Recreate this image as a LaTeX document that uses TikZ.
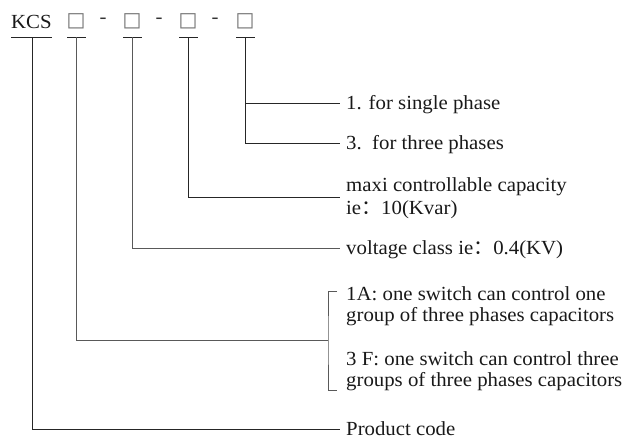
\documentclass[tikz,border=0pt]{standalone}
\usepackage{fontspec}
\setmainfont{Liberation Serif}[FakeStretch=1.04]
\newfontfamily\symfont{DejaVu Sans}
\newfontfamily\cjk{Noto Sans CJK SC}
\begin{document}
\begin{tikzpicture}[x=1pt,y=-1pt,
  ln/.style={line width=1pt, black!85},
  lnlight/.style={line width=1pt, black!65},
  lbl/.style={anchor=base west, inner sep=0pt, font=\fontsize{20}{22}\selectfont, text=black!90},
  sq/.style={inner sep=0pt, font=\symfont\fontsize{20}{22}\selectfont, text=black!55},
  dsh/.style={inner sep=0pt, font=\fontsize{20}{22}\selectfont, text=black!80}]
\useasboundingbox (0,0) rectangle (642,439);
% header
\node[lbl] (kcs) at (11,28) {KCS};
\node[sq] (b1) at (76,21) {□};
\node[dsh] (d1) at (103,21) {-};
\node[sq] (b2) at (132,21) {□};
\node[dsh] (d2) at (159,21) {-};
\node[sq] (b3) at (188,21) {□};
\node[dsh] (d3) at (215,21) {-};
\node[sq] (b4) at (245,21) {□};
% underlines
\coordinate (u0) at (32,37);
\coordinate (u1) at (76,37);
\coordinate (u2) at (132,37);
\coordinate (u3) at (188,37);
\coordinate (u4) at (245,37);
\draw[ln] (11,37) -- (52,37);
\draw[ln] (67,37) -- (86,37);
\draw[ln] (123,37) -- (142,37);
\draw[ln] (179,37) -- (198,37);
\draw[ln] (236,37) -- (255,37);
% end points
\coordinate (e4a) at (340,103);
\coordinate (e4b) at (340,143);
\coordinate (e3) at (340,197);
\coordinate (e2) at (340,248);
\coordinate (br) at (328,340);
\coordinate (brt) at (337,291);
\coordinate (brb) at (337,390);
\coordinate (e0) at (340,429);
% labels
\node[lbl] (t1) at (346,109) {1. for single phase};
\node[lbl] (t3) at (346,149) {3.\ \ for three phases};
\node[lbl] (tm1) at (346,191) {maxi controllable capacity};
\node[lbl] (tm2) at (346,214) {ie{\cjk ：}10(Kvar)};
\node[lbl] (tv) at (346,254) {voltage class ie{\cjk ：}0.4(KV)};
\node[lbl] (ta1) at (346,300) {1A: one switch can control one};
\node[lbl] (ta2) at (346,321) {group of three phases capacitors};
\node[lbl] (tf1) at (346,365) {3 F: one switch can control three};
\node[lbl] (tf2) at (346,386) {groups of three phases capacitors};
\node[lbl] (tp) at (346,435) {Product code};
% connectors
\draw[ln] (u4) |- (e4b);
\draw[ln] (u4 |- e4a) -- (e4a);
\draw[ln] (u3) |- (e3);
\draw[lnlight] (u2) |- (e2);
\draw[lnlight] (u1) |- (br);
\draw[lnlight] (brt) -| (br) |- (brb);
\draw[ln] (u0) |- (e0);
\end{tikzpicture}
\end{document}
